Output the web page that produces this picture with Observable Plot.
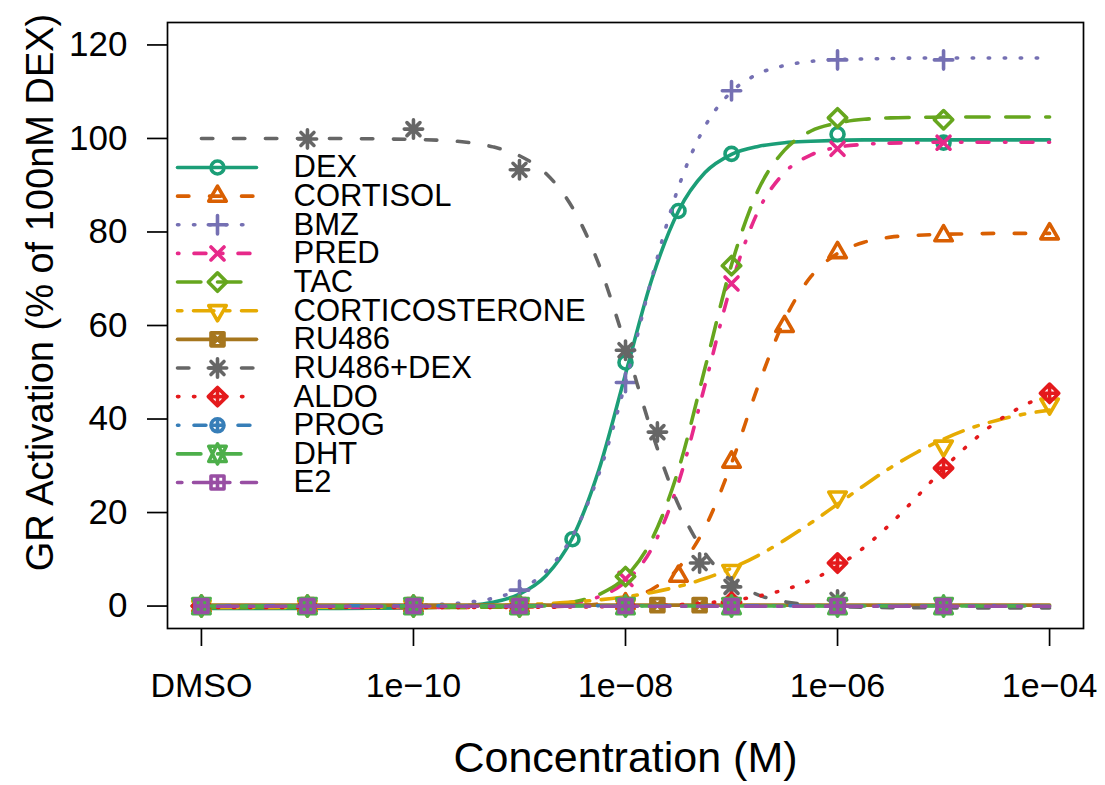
<!DOCTYPE html>
<html><head><meta charset="utf-8">
<script src="https://cdn.jsdelivr.net/npm/d3@7"></script>
<script src="https://cdn.jsdelivr.net/npm/@observablehq/plot@0.6"></script>
<style>body{margin:0;background:#fff}</style>
</head><body><div id="chart"></div>
<script>
// ---------------- data ----------------
const seriesNames = ["DEX","CORTISOL","BMZ","PRED","TAC","CORTICOSTERONE","RU486","RU486+DEX","ALDO","PROG","DHT","E2"];

const xTickConc = [1e-12, 1e-10, 1e-8, 1e-6, 1e-4];
const xTickLabels = ["DMSO", "1e\u221210", "1e\u221208", "1e\u221206", "1e\u221204"];
const yTicks = [0, 20, 40, 60, 80, 100, 120];

// fitted curves, log10 concentration grid (DMSO plotted at 1e-12)
const curveLogConc = [-12,-11,-10,-9.75,-9.5,-9.25,-9,-8.75,-8.5,-8.25,-8,-7.75,-7.5,-7.25,-7,-6.75,-6.5,-6.25,-6,-5.75,-5.5,-5.25,-5,-4.75,-4.5,-4.25,-4];
const dexCurve      = [-0.5,-0.5,-0.4,-0.26,0.06,0.81,2.57,6.49,14.6,29.2,49.6,70.0,84.5,92.7,96.6,98.3,99.1,99.4,99.6,99.7,99.7,99.7,99.7,99.7,99.7,99.7,99.7];
const cortisolCurve = [-0.3,-0.3,-0.3,-0.29,-0.29,-0.27,-0.24,-0.15,0.03,0.46,1.44,3.6,8.15,16.8,30.5,47.0,61.2,70.5,75.4,77.8,78.9,79.3,79.5,79.6,79.7,79.7,79.7];
const bmzCurve      = [0,0,0.16,0.36,0.77,1.66,3.54,7.42,15.0,28.3,47.8,70.3,89.6,102.6,110.0,113.8,115.6,116.5,116.9,117.0,117.1,117.2,117.2,117.2,117.2,117.2,117.2];
const predCurve     = [-0.3,-0.3,-0.3,-0.29,-0.28,-0.24,-0.15,0.07,0.63,1.99,5.22,12.4,26.4,47.3,68.9,84.4,92.7,96.5,98.1,98.75,99.0,99.1,99.2,99.2,99.2,99.2,99.2];
const tacCurve      = [-0.3,-0.3,-0.3,-0.29,-0.27,-0.22,-0.10,0.18,0.86,2.47,6.2,14.3,29.2,50.9,73.0,88.9,97.5,101.6,103.3,104.1,104.4,104.5,104.6,104.6,104.6,104.6,104.6];
const corticosteroneCurve = [-0.29,-0.27,-0.17,-0.11,-0.03,0.09,0.26,0.50,0.84,1.32,1.99,2.92,4.19,5.88,8.08,10.8,14.1,17.8,21.8,25.8,29.6,32.9,35.7,38.0,39.7,41.0,41.9];
const ru486Curve    = [0.2,0.2,0.2,0.2,0.2,0.2,0.2,0.2,0.2,0.2,0.2,0.2,0.2,0.2,0.2,0.2,0.2,0.2,0.2,0.2,0.2,0.2,0.2,0.2,0.2,0.2,0.2];
const ru486DexCurve = [100.0,100.0,99.8,99.6,99.2,98.2,96.3,92.5,85.2,73.0,55.8,37.1,21.6,11.3,5.4,2.4,0.94,0.24,-0.1,-0.26,-0.33,-0.37,-0.38,-0.4,-0.4,-0.4,-0.4];
const aldoCurve     = [-0.3,-0.3,-0.29,-0.29,-0.29,-0.28,-0.27,-0.24,-0.21,-0.16,-0.07,0.07,0.30,0.66,1.23,2.12,3.50,5.56,8.52,12.54,17.6,23.4,29.4,34.8,39.4,42.8,45.3];
const progCurve     = [0.05,0.05,0.05,0.05,0.05,0.05,0.05,0.05,0.05,0.05,0.05,0.05,0.05,0.05,0.05,0.05,0.05,0.05,0.05,0.05,0.05,0.05,0.05,0.05,0.05,0.05,0.05];
const dhtCurve      = [0,0,0,0,0,0,0,0,0,0,0,0,0,0,0,0,0,0,0,0,0,0,0,0,0,0,0];
const e2Curve       = [-0.05,-0.05,-0.05,-0.05,-0.05,-0.05,-0.05,-0.05,-0.05,-0.05,-0.05,-0.05,-0.05,-0.05,-0.05,-0.05,-0.05,-0.05,-0.05,-0.05,-0.05,-0.05,-0.05,-0.05,-0.05,-0.05,-0.05];

// measured points (log10 concentration, % activation)
const dexLogConc = [-12,-11,-10,-9,-8.5,-8,-7.5,-7,-6,-5];
const dexResp    = [0,0,0,0.3,14.3,52.1,84.5,96.7,100.9,99.1];
const cortisolLogConc = [-12,-11,-10,-9,-8,-7.5,-7,-6.5,-6,-5,-4];
const cortisolResp    = [0,0,0,0,0.5,6.4,30.8,59.8,75.6,79.2,79.6];
const bmzLogConc = [-12,-11,-10,-9,-8,-7,-6,-5];
const bmzResp    = [0,0,0,3.4,47.8,110.2,116.8,116.8];
const predLogConc = [-12,-11,-10,-9,-8,-7,-6,-5];
const predResp    = [0,0,0,0,5.8,69.0,97.8,99.1];
const tacLogConc = [-12,-11,-10,-9,-8,-7,-6,-5];
const tacResp    = [0,0,0,0,6.3,72.8,104.4,104.0];
const corticosteroneLogConc = [-12,-11,-10,-9,-8,-7,-6,-5,-4];
const corticosteroneResp    = [0,0,0,0,0.2,7.6,23.3,34.2,43.2];
const ru486LogConc = [-11,-10,-9,-8,-7.699,-7.301,-7,-6];
const ru486Resp    = [0.2,0.2,0.2,0.2,0.2,0.2,0.2,0.2];
const ru486DexLogConc = [-11,-10,-9,-8,-7.699,-7.301,-7,-6];
const ru486DexResp    = [99.9,102.0,93.3,54.7,37.2,9.2,4.1,1.3];
const aldoLogConc = [-12,-11,-10,-9,-8,-7,-6,-5,-4];
const aldoResp    = [0,0,0,0,0,0.8,9.2,29.5,45.5];
const progLogConc = [-12,-11,-10,-9,-8,-7,-6,-5];
const progResp    = [0,0,0,0,0,0,0,0];
const dhtLogConc = [-12,-11,-10,-9,-8,-7,-6,-5];
const dhtResp    = [0,0,0,0,0,0,0,0];
const e2LogConc = [-12,-11,-10,-9,-8,-7,-6,-5];
const e2Resp    = [0,0,0,0,0,0,0,0];

// ---------------- styles ----------------
const seriesColors = ["#1B9E77","#D95F02","#7570B3","#E7298A","#66A61E","#E6AB02","#A6761D","#666666","#E41A1C","#377EB8","#4DAF4A","#984EA3"];
const LW = 3.6;
const dashSolid = null, dashDashed = "11.4,20.6", dashDotted = "1.4,14.6",
      dashDotDash = "1.4,15.1,11.9,15.6", dashLong = "23.4,16.6", dashTwo = "4.4,11.6,20.4,11.6";
const seriesDash = [dashSolid, dashDashed, dashDotted, dashDotDash, dashLong, dashTwo,
                    dashSolid, dashDashed, dashDotted, dashDotDash, dashLong, dashTwo];

// R-like plotting symbols (pch 1..12)
const S = (fn) => ({draw(ctx, size) { fn(ctx, Math.sqrt(size / Math.PI)); }});
const circ = (c, R) => { c.moveTo(R, 0); c.arc(0, 0, R, 0, 2 * Math.PI); c.closePath(); };
const seg = (c, x0, y0, x1, y1) => { c.moveTo(x0, y0); c.lineTo(x1, y1); };
const poly = (c, p) => { c.moveTo(p[0][0], p[0][1]); for (let i = 1; i < p.length; i++) c.lineTo(p[i][0], p[i][1]); c.closePath(); };
const Q = Math.SQRT2;
const pch = [
  S((c, R) => circ(c, R)),
  S((c, R) => poly(c, [[0, -1.5551*R], [1.3468*R, 0.7776*R], [-1.3468*R, 0.7776*R]])),
  S((c, R) => { const x = Q*R; seg(c, -x, 0, x, 0); seg(c, 0, -x, 0, x); }),
  S((c, R) => { seg(c, -R, -R, R, R); seg(c, -R, R, R, -R); }),
  S((c, R) => { const x = Q*R; poly(c, [[-x, 0], [0, -x], [x, 0], [0, x]]); }),
  S((c, R) => poly(c, [[0, 1.5551*R], [1.3468*R, -0.7776*R], [-1.3468*R, -0.7776*R]])),
  S((c, R) => { poly(c, [[-R, -R], [R, -R], [R, R], [-R, R]]); seg(c, -R, -R, R, R); seg(c, -R, R, R, -R); }),
  S((c, R) => { seg(c, -R, -R, R, R); seg(c, -R, R, R, -R); const x = Q*R; seg(c, -x, 0, x, 0); seg(c, 0, -x, 0, x); }),
  S((c, R) => { const x = Q*R; seg(c, -x, 0, x, 0); seg(c, 0, -x, 0, x); poly(c, [[-x, 0], [0, -x], [x, 0], [0, x]]); }),
  S((c, R) => { circ(c, R); seg(c, -R, 0, R, 0); seg(c, 0, -R, 0, R); }),
  S((c, R) => { const r = 1.5551*R, yc = 1.1664*R, xc = 1.3468*R; poly(c, [[0, -r], [xc, yc], [-xc, yc]]); poly(c, [[0, r], [xc, -yc], [-xc, -yc]]); }),
  S((c, R) => { poly(c, [[-R, -R], [R, -R], [R, R], [-R, R]]); seg(c, -R, 0, R, 0); seg(c, 0, -R, 0, R); })
];
const legendLine = {draw(c) { c.moveTo(-39.5, 0); c.lineTo(39.5, 0); }};

// ---------------- tables ----------------
const curves = [dexCurve, cortisolCurve, bmzCurve, predCurve, tacCurve, corticosteroneCurve, ru486Curve, ru486DexCurve, aldoCurve, progCurve, dhtCurve, e2Curve];
const pointConc = [dexLogConc, cortisolLogConc, bmzLogConc, predLogConc, tacLogConc, corticosteroneLogConc, ru486LogConc, ru486DexLogConc, aldoLogConc, progLogConc, dhtLogConc, e2LogConc];
const pointResp = [dexResp, cortisolResp, bmzResp, predResp, tacResp, corticosteroneResp, ru486Resp, ru486DexResp, aldoResp, progResp, dhtResp, e2Resp];

const marks = [];
seriesNames.forEach((name, i) => {
  const line = curveLogConc.map((l, j) => ({conc: 10 ** l, resp: curves[i][j]}));
  const pts = pointConc[i].map((l, j) => ({conc: 10 ** l, resp: pointResp[i][j]}));
  marks.push(Plot.line(line, {x: "conc", y: "resp", curve: "monotone-x", stroke: seriesColors[i],
    strokeWidth: LW, strokeDasharray: seriesDash[i], strokeLinecap: "round", strokeLinejoin: "round"}));
  marks.push(Plot.dot(pts, {x: "conc", y: "resp", symbol: pch[i], r: 6.5, fill: "none", stroke: seriesColors[i],
    strokeWidth: LW, strokeLinecap: "round", strokeLinejoin: "round"}));
});

// legend (inside the frame, top-left)
const legTop = 145, legStep = 28.64;
seriesNames.forEach((name, i) => {
  const dy = legTop + i * legStep;
  marks.push(Plot.dot([name], {frameAnchor: "top-left", dx: 49.5, dy, symbol: legendLine, r: 1, fill: "none",
    stroke: seriesColors[i], strokeWidth: LW, strokeDasharray: seriesDash[i], strokeLinecap: "round"}));
  marks.push(Plot.dot([name], {frameAnchor: "top-left", dx: 50, dy, symbol: pch[i], r: 6.5, fill: "none",
    stroke: seriesColors[i], strokeWidth: LW, strokeLinecap: "round", strokeLinejoin: "round"}));
  marks.push(Plot.text([name], {frameAnchor: "top-left", dx: 126, dy, text: d => d, textAnchor: "start",
    lineAnchor: "middle", fontSize: 31, fill: "black"}));
});

marks.push(Plot.frame({stroke: "black", strokeWidth: 1.7}));
marks.push(Plot.axisX({ticks: xTickConc, tickFormat: d => xTickLabels[xTickConc.indexOf(d)], tickSize: 18,
  tickPadding: 26, fontSize: 34, label: null, stroke: "black", strokeWidth: 1.7, fill: "black"}));
marks.push(Plot.axisY({ticks: yTicks, tickFormat: d => String(d), tickSize: 20, tickPadding: 20,
  fontSize: 35, label: null, stroke: "black", strokeWidth: 1.7, fill: "black"}));
marks.push(Plot.text(["Concentration (M)"], {frameAnchor: "bottom", dy: 130, text: d => d, fontSize: 43,
  textAnchor: "middle", lineAnchor: "middle", fill: "black"}));
marks.push(Plot.text(["GR Activation (% of 100nM DEX)"], {frameAnchor: "left", dx: -127, dy: -33, rotate: -90,
  text: d => d, fontSize: 38, textAnchor: "middle", lineAnchor: "middle", fill: "black"}));

const chart = Plot.plot({
  width: 1105, height: 785,
  marginLeft: 167, marginRight: 22, marginTop: 22, marginBottom: 157,
  x: {type: "log", domain: [10 ** -12.32, 10 ** -3.68]},
  y: {domain: [-4.8, 124.8]},
  style: {fontFamily: "'Liberation Sans', Arial, Helvetica, sans-serif", background: "white", color: "black", overflow: "visible"},
  marks
});
document.getElementById("chart").appendChild(chart);
</script></body></html>
